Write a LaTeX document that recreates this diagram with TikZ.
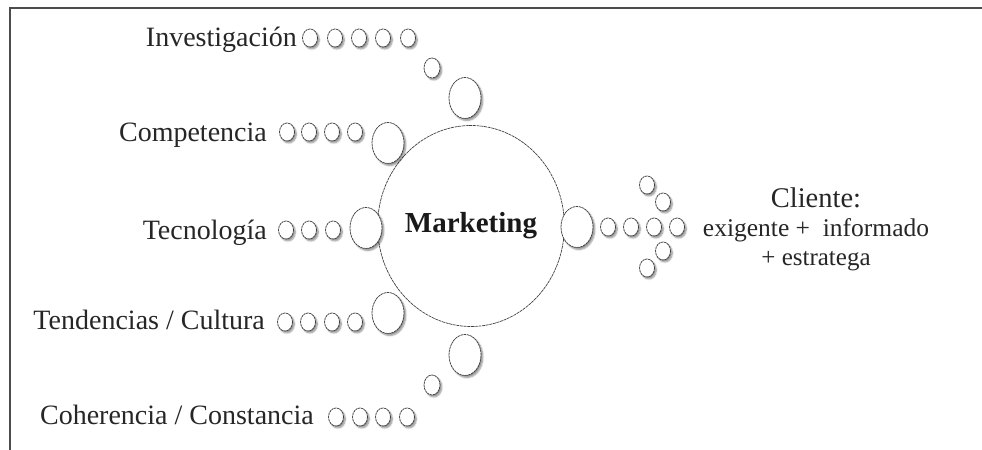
\documentclass[tikz,border=0pt]{standalone}
\usepackage{fontspec}
\setmainfont{Liberation Serif}
\usetikzlibrary{shapes.geometric,shadows.blur}
\tikzset{
  bub/.style={ellipse, draw=black!75, line width=0.75pt, dash pattern=on 2.5pt off 0.6pt,
    fill=white, inner sep=0pt,
    blur shadow={shadow xshift=1.8pt, shadow yshift=-2pt, shadow opacity=45,
      shadow blur steps=6, shadow blur radius=1.6pt}},
  sm/.style={bub, minimum width=15bp, minimum height=18bp},
  md/.style={bub, minimum width=16bp, minimum height=20bp},
  lg/.style={bub, minimum width=32bp, minimum height=41bp},
  lbl/.style={inner sep=0pt, font=\fontsize{28bp}{32bp}\selectfont, text=black!85},
}
\begin{document}
\begin{tikzpicture}[x=1bp,y=-1bp]
\useasboundingbox (0,0) rectangle (982,450);
% frame
\draw[black!70, line width=1.6bp] (10,450) -- (10,8) -- (982,8);
% central ellipse
\node[ellipse, draw=black!75, line width=0.7pt, dash pattern=on 3pt off 0.7pt,
  minimum width=162bp, minimum height=201bp, inner sep=0pt, text=black!90,
  font=\bfseries\fontsize{29bp}{32bp}\selectfont] (mk) at (471,226) {Marketing};
% Investigación
\node[lbl, anchor=base east] (tinv) at (297,47) {Investigación};
\node[sm] (i1) at (310,38) {};
\node[sm] (i2) at (335,38) {};
\node[sm] (i3) at (359,38) {};
\node[sm] (i4) at (383,38) {};
\node[sm] (i5) at (408,38) {};
\node[md] (i6) at (432,68) {};
\node[lg] (i7) at (465,98) {};
% Competencia
\node[lbl, anchor=base east] (tcom) at (267,142) {Competencia};
\node[sm] (c1) at (287,132) {};
\node[sm] (c2) at (309,132) {};
\node[sm] (c3) at (332,132) {};
\node[sm] (c4) at (355,132) {};
\node[lg] (c5) at (388,143) {};
% Tecnología
\node[lbl, anchor=base east] (ttec) at (267,240) {Tecnología};
\node[sm] (t1) at (286,230) {};
\node[sm] (t2) at (309,230) {};
\node[sm] (t3) at (333,230) {};
\node[lg] (t4) at (366,228) {};
% Tendencias / Cultura
\node[lbl, anchor=base east] (tten) at (265,330) {Tendencias / Cultura};
\node[sm] (d1) at (285,322) {};
\node[sm] (d2) at (308,322) {};
\node[sm] (d3) at (332,322) {};
\node[sm] (d4) at (355,322) {};
\node[lg] (d5) at (388,313) {};
% Coherencia / Constancia
\node[lg] (h5) at (465,355) {};
\node[md] (h0) at (432,385) {};
\node[lbl, anchor=base east] (tcoh) at (314,424) {Coherencia / Constancia};
\node[sm] (h1) at (336,417) {};
\node[sm] (h2) at (360,417) {};
\node[sm] (h3) at (383,417) {};
\node[sm] (h4) at (407,417) {};
% right side
\node[lg] (r0) at (577,227) {};
\node[sm] (r1) at (608,227) {};
\node[sm] (r2) at (631,227) {};
\node[sm] (r3) at (654,227) {};
\node[sm] (r4) at (677,227) {};
\node[sm] (u1) at (647,185) {};
\node[sm] (u2) at (663,202) {};
\node[sm] (l1) at (663,251) {};
\node[sm] (l2) at (647,268) {};
% Cliente
\node[inner sep=0pt, anchor=base, text=black!85, font=\fontsize{28.5bp}{30bp}\selectfont] (cl1) at (816,208) {Cliente:};
\node[inner sep=0pt, anchor=base, text=black!85, font=\fontsize{25.5bp}{30bp}\selectfont] (cl2) at (816,237) {exigente + \ informado};
\node[inner sep=0pt, anchor=base, text=black!85, font=\fontsize{25bp}{30bp}\selectfont] (cl3) at (816,266) {+ estratega};
\end{tikzpicture}
\end{document}
